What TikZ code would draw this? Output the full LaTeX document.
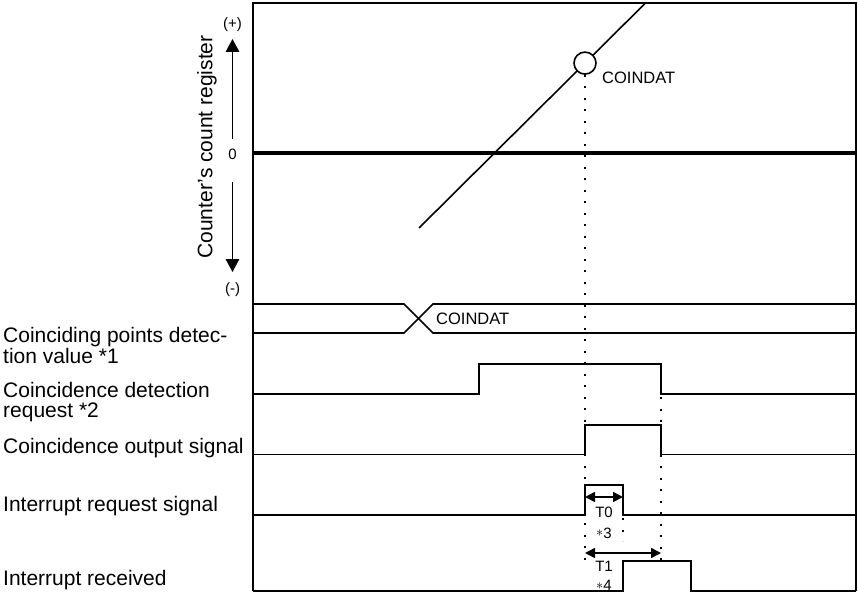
\documentclass[tikz,border=0pt]{standalone}
\usepackage{fontspec}
\setmainfont{Liberation Sans}
\usetikzlibrary{arrows.meta}
\begin{document}
\begin{tikzpicture}[x=1pt,y=-1pt,
  sig/.style={line width=1.6pt, line join=miter},
  dotln/.style={line width=2pt, dash pattern=on 2pt off 9.5pt},
  lbl/.style={font=\fontsize{21}{19.5}\selectfont, inner sep=0pt, anchor=base west},
  small/.style={font=\fontsize{16.5}{17}\selectfont, inner sep=0pt},
  tlbl/.style={font=\fontsize{15}{15}\selectfont, inner sep=0pt, text height=10.5pt, text depth=0pt},
  ax/.style={font=\fontsize{15}{15}\selectfont, inner sep=0pt},
  bigarrow/.style={line width=1.6pt, -{Triangle[length=13pt,width=13.5pt]}},
  dimarrow/.style={line width=1.6pt, {Triangle[length=10pt,width=10pt]}-{Triangle[length=10pt,width=10pt]}},
]
\useasboundingbox (0,0) rectangle (858,594);

% frame and zero line
\draw[sig] (253,591) -- (253,3) -- (856,3) -- (856,591);
\draw[line width=3.4pt] (253,153) -- (856,153);

% counter axis
\node[ax] (plus) at (232.5,25) {(+)};
\node[ax] (zero) at (232.5,154) {0};
\node[ax] (minus) at (232.5,290) {(-)};
\coordinate (upS) at (232.5,139);
\coordinate (upE) at (232.5,39);
\coordinate (dnS) at (232.5,182);
\coordinate (dnE) at (232.5,272);
\draw[bigarrow] (upS) -- (upE);
\draw[bigarrow] (dnS) -- (dnE);
\node[font=\fontsize{21}{21}\selectfont, inner sep=0pt, rotate=90] (ylab) at (207,147) {Counter’s count register};

% count ramp
\coordinate (rampA) at (419,228);
\coordinate (rampB) at (645.5,3);
\draw[sig] (rampA) -- (rampB);
\node[circle, draw, fill=white, line width=1.6pt, minimum size=22pt, inner sep=0pt] (cd) at (585,63.1) {};
\node[small, anchor=west] (cdl) at (602,78) {COINDAT};

% left labels
\node[lbl] (l1) at (3,342.5) {\vtop{\hbox{Coinciding points detec-}\hbox{tion value *1}}};
\node[lbl] (l2) at (3,397.5) {\vtop{\hbox{Coincidence detection}\hbox{request *2}}};
\node[lbl] (l3) at (3,453.3) {Coincidence output signal};
\node[lbl] (l4) at (3,511.7) {Interrupt request signal};
\node[lbl] (l5) at (3,585) {Interrupt received};

% bus
\draw[sig] (253,304) -- (404,304) -- (433,333) -- (856,333);
\draw[sig] (253,333) -- (404,333) -- (433,304) -- (856,304);
\node[small, anchor=west] (busl) at (436,319) {COINDAT};

% signals
\draw[sig] (253,394) -- (479,394) -- (479,364) -- (661,364) -- (661,394) -- (856,394);
\draw[sig] (253,454.5) -- (585,454.5) -- (585,425) -- (661,425) -- (661,454.5) -- (856,454.5);
\draw[sig] (253,515) -- (585,515) -- (585,485) -- (623,485) -- (623,515) -- (856,515);
\draw[sig] (253,591) -- (623,591) -- (623,561) -- (691,561) -- (691,591) -- (856,591);

% dotted guides
\coordinate (d1e) at (585,562);
\coordinate (d2s) at (623,518);
\coordinate (d2e) at (623,541);
\coordinate (d3s) at (661,397);
\coordinate (d3e) at (661,568);
\draw[dotln] (cd.south) -- (d1e);
\draw[dotln] (d2s) -- (d2e);
\draw[dotln] (d3s) -- (d3e);

% timing dimensions
\coordinate (t0a) at (585,497);
\coordinate (t0b) at (623,497);
\coordinate (t1a) at (585,553);
\coordinate (t1b) at (661,553);
\draw[dimarrow] (t0a) -- (t0b);
\draw[dimarrow] (t1a) -- (t1b);
\node[tlbl] (t0) at (604,512) {T0};
\node[tlbl] (n3) at (604,533) {\raisebox{1.5pt}{$\ast$}3};
\node[tlbl] (t1) at (604,566) {T1};
\node[tlbl] (n4) at (604,585.5) {\raisebox{1.5pt}{$\ast$}4};
\end{tikzpicture}
\end{document}
